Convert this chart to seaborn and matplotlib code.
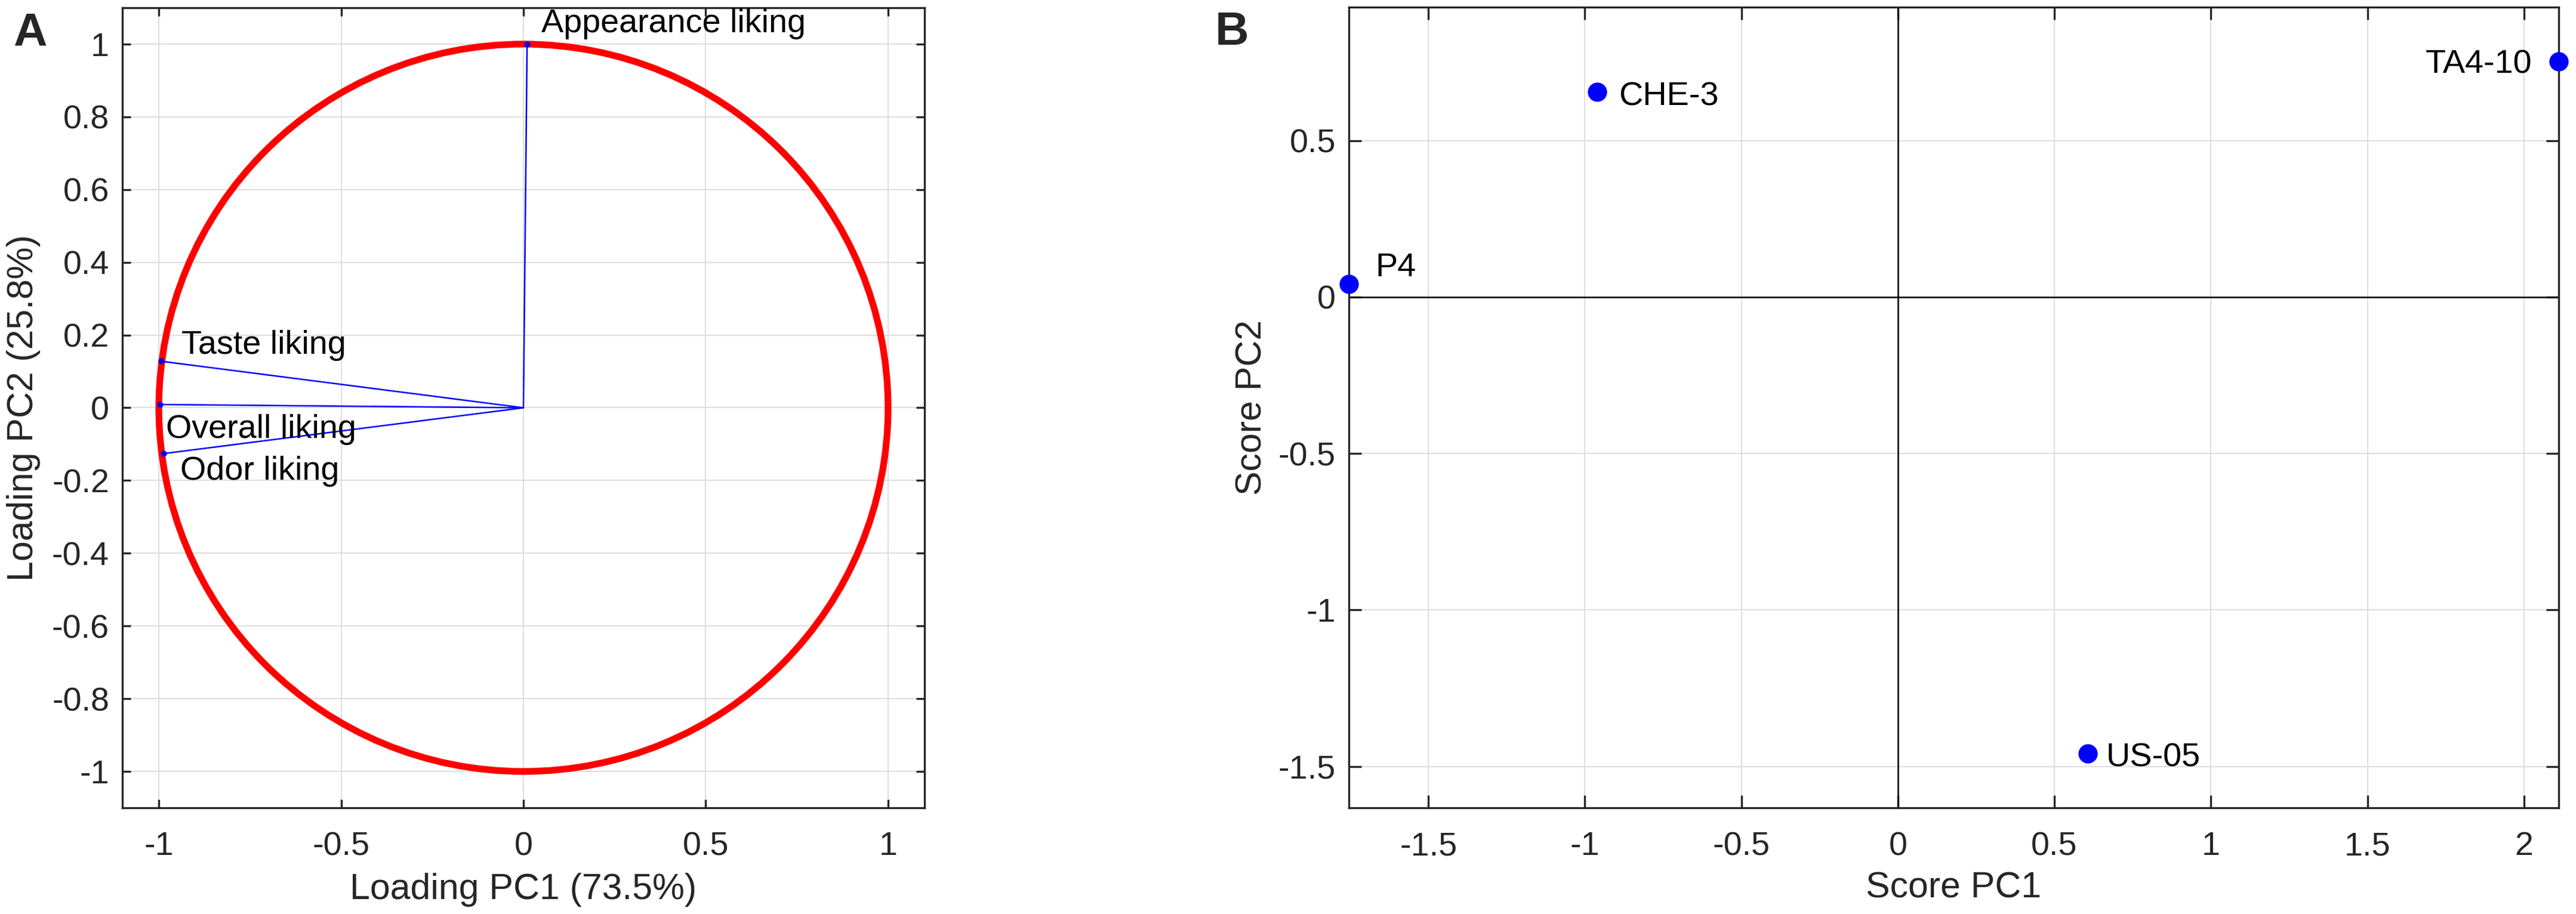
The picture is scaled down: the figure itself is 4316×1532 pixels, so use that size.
import numpy as np
import pandas as pd
import matplotlib
matplotlib.use("Agg")
import matplotlib.pyplot as plt
from matplotlib.patches import Circle
from matplotlib.ticker import MultipleLocator, FuncFormatter
import seaborn as sns

# =====================================================
# DATA
# =====================================================

variables = ["Appearance liking", "Taste liking", "Overall liking", "Odor liking"]
loading_pc1 = [0.01, -0.994, -0.997, -0.987]
loading_pc2 = [1.0, 0.128, 0.009, -0.126]

strains = ["P4", "CHE-3", "TA4-10", "US-05"]
score_pc1 = [-1.754, -0.961, 2.111, 0.606]
score_pc2 = [0.041, 0.655, 0.752, -1.458]

pc1_label_a = "Loading PC1 (73.5%)"
pc2_label_a = "Loading PC2 (25.8%)"
pc1_label_b = "Score PC1"
pc2_label_b = "Score PC2"

# =====================================================
# STYLE
# =====================================================

sns.set_style("ticks")
plt.rcParams["font.family"] = ["Liberation Sans", "DejaVu Sans"]
plt.rcParams["axes.unicode_minus"] = False

AX_COLOR = "#262626"
GRID_COLOR = "#dedede"
TICK_FS = 13.4
LABEL_FS = 14.6

W, H = 4316, 1532
DPI = 300
fig = plt.figure(figsize=(W / DPI, H / DPI), dpi=DPI)


def tick_fmt(v, _pos):
    v = round(v, 6)
    if v == 0:
        v = 0.0
    return f"{v:g}"


def px_axes(left, top, right, bottom):
    return fig.add_axes([left / W, 1 - bottom / H, (right - left) / W, (bottom - top) / H])


def style_axes(ax, ticklen):
    for sp in ax.spines.values():
        sp.set_visible(True)
        sp.set_color(AX_COLOR)
        sp.set_linewidth(0.8)
    ax.tick_params(which="both", direction="in", top=True, right=True,
                   length=ticklen, width=0.8, color=AX_COLOR,
                   labelsize=TICK_FS, labelcolor=AX_COLOR)
    ax.tick_params(axis="x", pad=9.4)
    ax.tick_params(axis="y", pad=5.3)
    ax.grid(True, color=GRID_COLOR, linewidth=0.5)
    ax.set_axisbelow(True)
    ax.xaxis.set_major_formatter(FuncFormatter(tick_fmt))
    ax.yaxis.set_major_formatter(FuncFormatter(tick_fmt))


def place_labels(ax, xlabel, ylabel, xl_y, yl_x):
    ax.set_xlabel(xlabel, fontsize=LABEL_FS, color=AX_COLOR)
    ax.set_ylabel(ylabel, fontsize=LABEL_FS, color=AX_COLOR)
    ax.xaxis.set_label_coords(0.5, xl_y)
    ax.xaxis.label.set_va("baseline")
    ax.yaxis.set_label_coords(yl_x, 0.5)
    ax.yaxis.label.set_rotation_mode("anchor")
    ax.yaxis.label.set_va("baseline")
    ax.yaxis.label.set_ha("center")


# =====================================================
# PANEL A - LOADINGS
# =====================================================

ax_a = px_axes(205, 13, 1549, 1354)
style_axes(ax_a, 3.4)

ax_a.add_patch(Circle((0, 0), 1.0, fill=False, edgecolor="red", linewidth=2.7, zorder=2))

load_df = pd.DataFrame({
    "variable": variables,
    "pc1": loading_pc1,
    "pc2": loading_pc2,
})

# one segment per variable, from the origin to its loading
seg_df = pd.concat([
    load_df.assign(pc1=0.0, pc2=0.0, step=0),
    load_df.assign(step=1),
])

sns.lineplot(data=seg_df, x="pc1", y="pc2", units="variable", estimator=None,
             sort=False, color="blue", linewidth=0.6, ax=ax_a, zorder=3)
sns.scatterplot(data=load_df, x="pc1", y="pc2", color="blue", s=6,
                linewidth=0, ax=ax_a, zorder=4)

label_offsets_a = {
    "Appearance liking": (5.7, 4.8),
    "Taste liking": (8.1, 3.1),
    "Overall liking": (2.5, -13.5),
    "Odor liking": (6.7, -10.5),
}
for _, row in load_df.iterrows():
    ax_a.annotate(row["variable"], (row["pc1"], row["pc2"]),
                  xytext=label_offsets_a[row["variable"]], textcoords="offset points",
                  ha="left", va="baseline", fontsize=TICK_FS, color="black", zorder=5)

ax_a.set_xlim(-1.1, 1.1)
ax_a.set_ylim(-1.1, 1.1)
ax_a.xaxis.set_major_locator(MultipleLocator(0.5))
ax_a.yaxis.set_major_locator(MultipleLocator(0.2))
place_labels(ax_a, pc1_label_a, pc2_label_a, -0.1141, -0.1116)

# =====================================================
# PANEL B - SCORES
# =====================================================

left_b, top_b, right_b, bottom_b = 2260, 12, 4287, 1354
ax_b = px_axes(left_b, top_b, right_b, bottom_b)
style_axes(ax_b, 5.0)

score_df = pd.DataFrame({
    "strain": strains,
    "pc1": score_pc1,
    "pc2": score_pc2,
})

ax_b.axhline(0, color="black", linewidth=0.6, zorder=1)
ax_b.axvline(0, color="black", linewidth=0.6, zorder=1)

sns.scatterplot(data=score_df, x="pc1", y="pc2", color="blue", s=60,
                linewidth=0, ax=ax_b, zorder=4, clip_on=False)

label_offsets_b = {
    "P4": (10.6, 3.3, "left"),
    "CHE-3": (8.6, -5.3, "left"),
    "TA4-10": (-10.8, -4.6, "right"),
    "US-05": (7.5, -5.3, "left"),
}
for _, row in score_df.iterrows():
    dx, dy, ha = label_offsets_b[row["strain"]]
    ax_b.annotate(row["strain"], (row["pc1"], row["pc2"]),
                  xytext=(dx, dy), textcoords="offset points",
                  ha=ha, va="baseline", fontsize=TICK_FS, color="black", zorder=5)

# tight x range, equal data aspect -> y range centred on the data
x_min, x_max = score_df["pc1"].min(), score_df["pc1"].max()
y_mid = (score_df["pc2"].min() + score_df["pc2"].max()) / 2
y_half = (x_max - x_min) * (bottom_b - top_b) / (right_b - left_b) / 2
ax_b.set_xlim(x_min, x_max)
ax_b.set_ylim(y_mid - y_half, y_mid + y_half)
ax_b.xaxis.set_major_locator(MultipleLocator(0.5))
ax_b.yaxis.set_major_locator(MultipleLocator(0.5))
place_labels(ax_b, pc1_label_b, pc2_label_b, -0.1125, -0.0725)

# =====================================================
# PANEL LETTERS
# =====================================================

fig.text(22 / W, 1 - 76 / H, "A", fontsize=18.8, fontweight="bold", va="baseline", ha="left")
fig.text(2036 / W, 1 - 75 / H, "B", fontsize=18.8, fontweight="bold", va="baseline", ha="left")

fig.savefig("out.png", dpi=DPI)
